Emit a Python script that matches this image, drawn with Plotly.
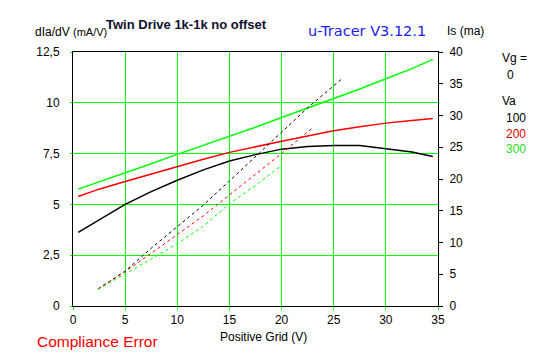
import plotly.graph_objects as go

# ---- data ----
gm_x = [0.5, 2.5, 5, 7.5, 10, 12.5, 15, 17.5, 20, 22.5, 25, 27.5, 30, 32.5, 34.5]
gm_100 = [3.62, 4.25, 5.0, 5.63, 6.19, 6.7, 7.14, 7.45, 7.72, 7.85, 7.9, 7.9, 7.75, 7.58, 7.36]
gm_200 = [5.39, 5.75, 6.13, 6.5, 6.88, 7.22, 7.56, 7.85, 8.11, 8.37, 8.62, 8.82, 9.0, 9.13, 9.23]
gm_300 = [5.75, 6.1, 6.55, 7.0, 7.46, 7.9, 8.34, 8.8, 9.28, 9.74, 10.2, 10.68, 11.18, 11.68, 12.14]

is_x_100 = [2.4, 5, 7.5, 10, 12.5, 15, 17.5, 20, 22.5, 25, 25.8]
is_100 = [2.7, 5.5, 9.1, 12.5, 15.9, 19.7, 23.5, 27.3, 31.2, 34.7, 35.8]
is_x_200 = [2.4, 5, 7.5, 10, 12.5, 15, 17.5, 20, 23.0]
is_200 = [2.7, 5.4, 8.3, 11.3, 14.2, 17.5, 20.7, 24.0, 28.1]
is_x_300 = [2.4, 5, 7.5, 10, 12.5, 15, 17.5, 19.9]
is_300 = [2.6, 5.0, 7.4, 9.8, 12.6, 16.1, 19.0, 22.0]

x_ticks = [0, 5, 10, 15, 20, 25, 30, 35]
x_ticktext = ["0", "5", "10", "15", "20", "25", "30", "35"]
y_ticks = [0, 2.5, 5, 7.5, 10, 12.5]
y_ticktext = ["0", "2,5", "5", "7,5", "10", "12,5"]
y2_ticks = [0, 5, 10, 15, 20, 25, 30, 35, 40]
y2_ticktext = ["0", "5", "10", "15", "20", "25", "30", "35", "40"]

va_labels = ["100", "200", "300"]
colors = ["#000000", "#ff0000", "#00ff00"]
label_colors = ["#000000", "#e00000", "#22dd22"]

W, H = 547, 357
L, R, T, B = 73, 438, 52, 306

fig = go.Figure()
for ys, c in zip([gm_100, gm_200, gm_300], colors):
    fig.add_trace(go.Scatter(x=gm_x, y=ys, mode="lines", line=dict(color=c, width=1.5),
                             yaxis="y", showlegend=False, hoverinfo="skip"))
for xs, ys, c in zip([is_x_100, is_x_200, is_x_300], [is_100, is_200, is_300], colors):
    fig.add_trace(go.Scatter(x=xs, y=ys, mode="lines", line=dict(color=c, width=1, dash="3px,3px"),
                             yaxis="y2", showlegend=False, hoverinfo="skip"))

font = "Liberation Sans, Arial, sans-serif"

fig.update_layout(
    width=W, height=H,
    margin=dict(l=L, r=W - R, t=T, b=H - B, pad=0),
    paper_bgcolor="white", plot_bgcolor="white",
    font=dict(family=font, size=12, color="black"),
    showlegend=False,
    xaxis=dict(range=[0, 35], tickvals=x_ticks, ticktext=x_ticktext,
               showgrid=True, gridcolor="#00ff00", gridwidth=1,
               showline=True, linecolor="black", linewidth=1, mirror=True,
               ticks="outside", ticklen=3, tickcolor="#00ff00",
               zeroline=False, tickfont=dict(size=12)),
    yaxis=dict(range=[0, 12.5], tickvals=y_ticks, ticktext=y_ticktext,
               showgrid=True, gridcolor="#00ff00", gridwidth=1,
               showline=True, linecolor="black", linewidth=1,
               ticks="outside", ticklen=2, tickcolor="#00ff00",
               ticklabelstandoff=8, zeroline=False, tickfont=dict(size=12)),
    yaxis2=dict(range=[0, 40], tickvals=y2_ticks, ticktext=y2_ticktext,
                overlaying="y", side="right", showgrid=False,
                showline=True, linecolor="black", linewidth=1,
                ticks="outside", ticklen=4, tickcolor="black",
                ticklabelstandoff=4, zeroline=False, tickfont=dict(size=12)),
)

def px(x):
    return (x - L) / (R - L)

def py(y):
    return (B - y) / (B - T)

def ann(text, x, y, color="black", size=12, xanchor="left", family=font):
    fig.add_annotation(text=text, x=px(x), y=py(y), xref="paper", yref="paper",
                       xanchor=xanchor, yanchor="middle", showarrow=False,
                       font=dict(color=color, size=size, family=family))

ann("dIa/dV <span style='font-size:11px'>(mA/V)</span>", 33, 32)
ann("<b>Twin Drive 1k-1k no offset</b>", 104, 25, color="#101030", size=13)
ann("u-Tracer V3.12.1", 306, 31, color="#2020ee", size=14.5, family="DejaVu Sans, sans-serif")
ann("Is (ma)", 445, 31, size=12)
ann("Vg =", 500, 58)
ann("0", 505, 75)
ann("Va", 500, 101)
for i, (t, c) in enumerate(zip(va_labels, label_colors)):
    ann(t, 504, 118 + i * 15.5, color=c)
ann("Positive Grid (V)", 263, 337, xanchor="center")
ann("Compliance Error", 35, 341, color="#ff0000", size=15.5)

fig.write_html("out.html", config={"displayModeBar": False},
               post_script="document.body.style.margin='0';document.body.style.overflow='hidden';")
